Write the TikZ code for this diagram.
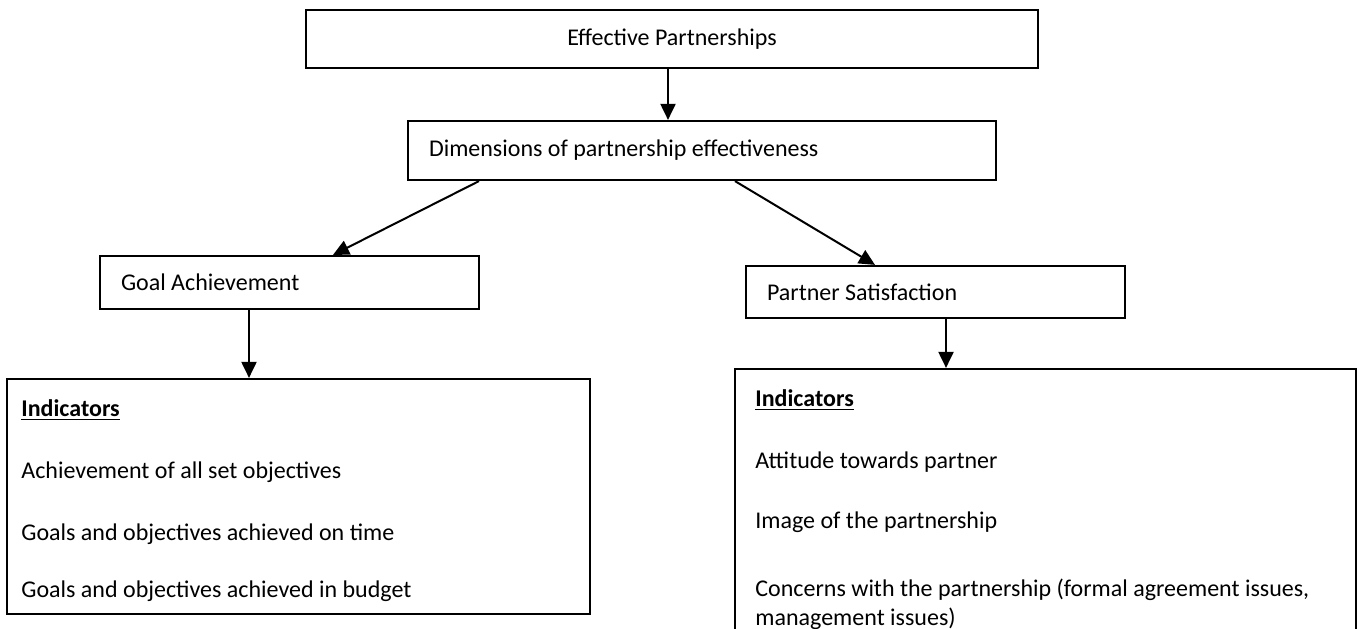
\documentclass[tikz,border=0pt]{standalone}
\usepackage{fontspec}
\setmainfont{Carlito}
\usetikzlibrary{arrows.meta,calc}
\newcommand{\ulbold}[1]{\setbox0\hbox{\textbf{#1}}\rlap{\rule[-2.2pt]{\wd0}{0.9pt}}\box0}
\begin{document}
\begin{tikzpicture}[x=0.5pt,y=-0.5pt,
  box/.style={draw=black, line width=1.1pt, rectangle, inner ysep=0pt, font=\fontsize{12}{14.5}\selectfont,
    execute at begin node={\spaceskip=0pt\xspaceskip=0pt}},
  lbox/.style={box, align=left, inner xsep=10.5pt},
  txt/.style={inner sep=0pt, font=\fontsize{12}{14.5}\selectfont, anchor=base west},
  arr/.style={line width=1pt, -{Triangle[width=7.5pt,length=8pt]}}]
\useasboundingbox (0,0) rectangle (1359,628);
\clip (0,0) rectangle (1359,628);
% boxes
\node[box, minimum width=366pt, minimum height=29pt, align=center] (top) at (672,39) {Effective Partnerships};
\node[lbox, text width=273pt, minimum height=29.5pt] (dim) at (702,150.5) {Dimensions of partnership effectiveness};
\node[lbox, text width=168.5pt, minimum height=26.5pt] (goal) at (289.5,282.5) {Goal Achievement};
\node[lbox, text width=168.5pt, minimum height=26pt] (partner) at (935.5,292) {Partner Satisfaction};
\node[box, minimum width=291.5pt, minimum height=117.5pt] (indL) at (298.5,496.5) {};
\node[box, minimum width=310.5pt, minimum height=155.5pt] (indR) at (1045.5,524.5) {};
% texts in indicator boxes
\node[txt] (l0) at (21,416) {\ulbold{Indicators}};
\node[txt] (l1) at (21,478) {Achievement of all set objectives};
\node[txt] (l2) at (21,540) {Goals and objectives achieved on time};
\node[txt] (l3) at (21,597) {Goals and objectives achieved in budget};
\node[txt] (r0) at (755,406) {\ulbold{Indicators}};
\node[txt] (r1) at (755,468) {Attitude towards partner};
\node[txt] (r2) at (755,528) {Image of the partnership};
\node[txt] (r3) at (755,596) {Concerns with the partnership (formal agreement issues,};
\node[txt] (r4) at (755,625) {management issues)};
% connectors
\coordinate (xa) at (668,0);
\draw[arr] (top.south -| xa) -- (dim.north -| xa);
\coordinate (xb) at (479,0);
\coordinate (xc) at (333,0);
\draw[arr] (dim.south -| xb) -- (goal.north -| xc);
\coordinate (xd) at (735,0);
\coordinate (xe) at (875,0);
\draw[arr] (dim.south -| xd) -- (partner.north -| xe);
\coordinate (xf) at (249,0);
\draw[arr] (goal.south -| xf) -- (indL.north -| xf);
\coordinate (xg) at (946,0);
\draw[arr] (partner.south -| xg) -- (indR.north -| xg);
\end{tikzpicture}
\end{document}
